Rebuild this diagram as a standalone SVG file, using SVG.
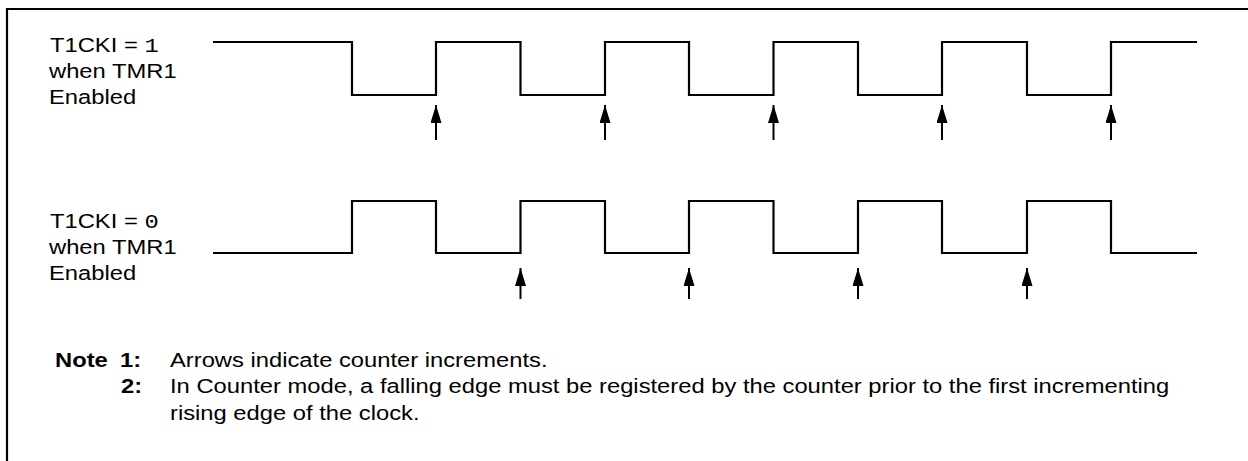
<svg xmlns="http://www.w3.org/2000/svg" width="1248" height="461" viewBox="0 0 1248 461">
<style>
.t{font-family:"Liberation Sans",Arial,sans-serif;font-size:21px;fill:#000}
.b{font-weight:bold}
.m{font-family:"Liberation Mono","Courier New",monospace;font-size:21px}
.w{fill:none;stroke:#000;stroke-width:2.2}
.a{stroke:#000;stroke-width:2}
.f{fill:none;stroke:#000;stroke-width:2.2}
</style>
<defs>
<marker id="ah" markerUnits="userSpaceOnUse" markerWidth="18" markerHeight="11" refX="18" refY="5.5" orient="auto" viewBox="0 0 18 11">
<path d="M0,0 L18,5.5 L0,11 z" fill="#000"/>
</marker>
</defs>
<path class="f" d="M1248,9 H7 V461"/>
<g id="label1">
<text class="t" transform="translate(50,52) scale(1.132,1)">T1CKI = <tspan class="m">1</tspan></text>
<text class="t" transform="translate(49,78) scale(1.132,1)">when TMR1</text>
<text class="t" transform="translate(49,104) scale(1.132,1)">Enabled</text>
</g>
<g id="label2">
<text class="t" transform="translate(50,228) scale(1.132,1)">T1CKI = <tspan class="m">0</tspan></text>
<text class="t" transform="translate(49,254) scale(1.132,1)">when TMR1</text>
<text class="t" transform="translate(49,280) scale(1.132,1)">Enabled</text>
</g>
<g id="wave1">
<path class="w" d="M213,42 H352 V95 H436 V42 H520.5 V95 H605 V42 H689 V95 H773.5 V42 H858 V95 H942 V42 H1027 V95 H1111 V42 H1197"/>
</g>
<g id="wave2">
<path class="w" d="M213,253 H352 V201 H436 V253 H520.5 V201 H605 V253 H689 V201 H773.5 V253 H858 V201 H942 V253 H1027 V201 H1111 V253 H1197"/>
</g>
<g id="connectors">
<line class="a" x1="436" y1="140" x2="436" y2="105" marker-end="url(#ah)"/>
<line class="a" x1="605" y1="140" x2="605" y2="105" marker-end="url(#ah)"/>
<line class="a" x1="773.5" y1="140" x2="773.5" y2="105" marker-end="url(#ah)"/>
<line class="a" x1="942" y1="140" x2="942" y2="105" marker-end="url(#ah)"/>
<line class="a" x1="1111" y1="140" x2="1111" y2="105" marker-end="url(#ah)"/>
<line class="a" x1="520.5" y1="299" x2="520.5" y2="268" marker-end="url(#ah)"/>
<line class="a" x1="689" y1="299" x2="689" y2="268" marker-end="url(#ah)"/>
<line class="a" x1="858" y1="299" x2="858" y2="268" marker-end="url(#ah)"/>
<line class="a" x1="1027" y1="299" x2="1027" y2="268" marker-end="url(#ah)"/>
</g>
<g id="notes">
<text class="t b" transform="translate(55,367) scale(1.132,1)">Note</text>
<text class="t b" transform="translate(120,367) scale(1.132,1)">1:</text>
<text class="t" transform="translate(170,367) scale(1.132,1)">Arrows indicate counter increments.</text>
<text class="t b" transform="translate(121,393) scale(1.132,1)">2:</text>
<text class="t" transform="translate(170,393) scale(1.132,1)">In Counter mode, a falling edge must be registered by the counter prior to the first incrementing</text>
<text class="t" transform="translate(170,420) scale(1.132,1)">rising edge of the clock.</text>
</g>
</svg>
